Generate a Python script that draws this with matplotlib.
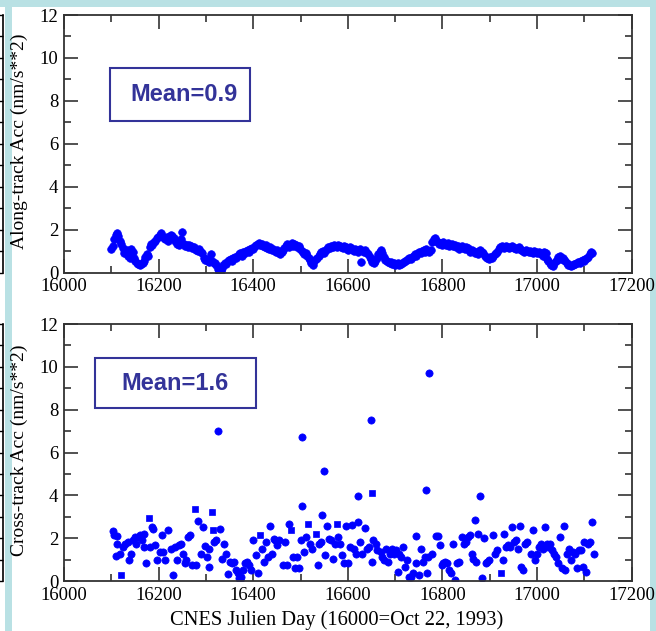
import numpy as np
import matplotlib
matplotlib.use('Agg')
import matplotlib.pyplot as plt
from matplotlib.patches import Rectangle
from matplotlib.ticker import MultipleLocator

# Along-track acceleration, sampled every 3 days from day 16100
along_start = 16100
along_step = 3
along_acc = [
    1.10, 1.25, 1.55, 1.75, 1.85, 1.70, 1.50, 1.35, 1.15, 0.90, 0.95, 1.05, 0.80, 0.70, 1.10, 0.95,
    0.70, 0.55, 0.45, 0.40, 0.38, 0.40, 0.45, 0.55, 0.75, 0.85, 0.80, 1.20, 1.35, 1.30, 1.45, 1.50,
    1.60, 1.65, 1.75, 1.85, 1.70, 1.60, 1.55, 1.65, 1.50, 1.70, 1.75, 1.70, 1.60, 1.50, 1.35, 1.45,
    1.30, 1.55, 1.90, 1.35, 1.25, 1.30, 1.20, 1.30, 1.25, 1.15, 1.20, 1.10, 1.05, 1.00, 1.10, 0.95,
    0.90, 0.70, 0.60, 0.65, 0.55, 0.50, 0.85, 0.55, 0.45, 0.45, 0.35, 0.15, 0.05, 0.10, 0.20, 0.35,
    0.45, 0.40, 0.55, 0.60, 0.65, 0.55, 0.70, 0.75, 0.70, 0.80, 0.85, 0.90, 0.80, 0.95, 0.90, 1.00,
    1.05, 0.95, 1.10, 1.15, 1.10, 1.25, 1.30, 1.35, 1.40, 1.30, 1.35, 1.25, 1.20, 1.30, 1.15, 1.10,
    1.20, 1.05, 1.10, 1.00, 0.95, 1.05, 0.90, 0.85, 0.95, 1.05, 1.15, 1.25, 1.35, 1.20, 1.30, 1.40,
    1.25, 1.35, 1.30, 1.20, 1.25, 1.10, 1.00, 0.95, 0.85, 0.90, 0.80, 0.70, 0.60, 0.45, 0.35, 0.55,
    0.65, 0.70, 0.80, 0.85, 0.95, 1.00, 0.90, 1.05, 1.10, 1.20, 1.15, 1.25, 1.20, 1.30, 1.25, 1.20,
    1.30, 1.25, 1.20, 1.15, 1.25, 1.20, 1.10, 1.05, 1.20, 1.15, 1.05, 1.00, 1.10, 1.05, 0.95, 1.10,
    0.50, 1.00, 0.95, 1.05, 0.90, 0.85, 0.75, 0.65, 0.50, 0.45, 0.55, 0.70, 0.85, 0.95, 1.05, 0.90,
    0.75, 0.60, 0.55, 0.50, 0.45, 0.50, 0.40, 0.45, 0.35, 0.40, 0.45, 0.35, 0.40, 0.45, 0.50, 0.55,
    0.60, 0.65, 0.70, 0.65, 0.75, 0.80, 0.85, 0.80, 0.90, 0.95, 0.90, 1.00, 1.05, 0.95, 1.10, 1.00,
    0.95, 1.05, 1.45, 1.55, 1.60, 1.50, 1.45, 1.35, 1.40, 1.30, 1.45, 1.35, 1.30, 1.40, 1.25, 1.30,
    1.35, 1.25, 1.30, 1.20, 1.25, 1.10, 1.20, 1.25, 1.15, 1.10, 1.20, 1.15, 1.05, 0.95, 1.05, 1.00,
    0.90, 0.95, 0.85, 1.00, 1.05, 0.95, 0.90, 0.80, 0.75, 0.70, 0.65, 0.75, 0.70, 0.80, 0.85, 0.90,
    0.95, 1.10, 1.20, 1.25, 1.20, 1.15, 1.25, 1.20, 1.15, 1.20, 1.25, 1.20, 1.15, 1.10, 1.15, 1.20,
    1.10, 1.05, 1.00, 0.95, 1.05, 1.00, 0.95, 1.00, 0.95, 0.90, 1.00, 0.95, 0.90, 0.95, 0.90, 0.85,
    0.80, 0.95, 0.90, 0.65, 0.55, 0.45, 0.35, 0.30, 0.45, 0.55, 0.60, 0.75, 0.80, 0.65, 0.70, 0.60,
    0.55, 0.45, 0.35, 0.35, 0.30, 0.35, 0.40, 0.40, 0.45, 0.50, 0.45, 0.55, 0.60, 0.55, 0.65, 0.70,
    0.75, 0.85, 0.95, 0.90,
]
along_days = along_start + along_step * np.arange(len(along_acc))

# Cross-track acceleration (circles)
cross_days = [
    16103, 16105, 16113, 16111, 16109, 16119, 16125, 16129, 16135, 16137, 16141, 16145, 16149, 16153,
    16157, 16161, 16165, 16169, 16168, 16173, 16181, 16185, 16189, 16193, 16197, 16203, 16208, 16210,
    16214, 16220, 16226, 16231, 16234, 16238, 16242, 16248, 16251, 16256, 16258, 16262, 16266, 16270,
    16278, 16284, 16289, 16294, 16298, 16302, 16306, 16306, 16316, 16322, 16325, 16330, 16334, 16339,
    16343, 16347, 16351, 16355, 16359, 16363, 16367, 16369, 16371, 16375, 16379, 16383, 16387, 16391,
    16395, 16399, 16405, 16411, 16419, 16423, 16427, 16431, 16435, 16439, 16443, 16447, 16451, 16455,
    16463, 16467, 16472, 16476, 16484, 16488, 16492, 16496, 16500, 16504, 16504, 16508, 16512, 16520,
    16524, 16536, 16540, 16544, 16546, 16550, 16552, 16556, 16560, 16564, 16568, 16572, 16580, 16584,
    16588, 16592, 16596, 16600, 16604, 16609, 16613, 16617, 16621, 16622, 16625, 16629, 16637, 16641,
    16645, 16649, 16651, 16654, 16659, 16661, 16669, 16673, 16677, 16681, 16685, 16689, 16693, 16697,
    16701, 16705, 16709, 16713, 16717, 16721, 16725, 16729, 16733, 16737, 16743, 16745, 16750, 16754,
    16758, 16762, 16766, 16767, 16770, 16772, 16778, 16786, 16790, 16794, 16798, 16802, 16806, 16810,
    16814, 16818, 16822, 16826, 16830, 16834, 16842, 16846, 16850, 16854, 16858, 16862, 16864, 16869,
    16870, 16874, 16879, 16883, 16887, 16891, 16895, 16899, 16907, 16911, 16915, 16927, 16931, 16935,
    16939, 16943, 16947, 16951, 16955, 16959, 16963, 16967, 16971, 16975, 16979, 16987, 16991, 16995,
    16999, 17003, 17008, 17012, 17016, 17020, 17024, 17028, 17032, 17036, 17040, 17044, 17048, 17052,
    17056, 17060, 17064, 17068, 17072, 17076, 17080, 17084, 17088, 17092, 17096, 17100, 17104, 17108,
    17112, 17116, 17120,
]
cross_acc = [
    2.33, 2.13, 2.09, 1.75, 1.17, 1.25, 1.59, 1.75, 1.82, 0.97, 1.28, 1.90, 2.06, 1.75,
    2.06, 2.13, 1.90, 2.21, 1.59, 0.82, 1.59, 2.52, 2.44, 1.67, 0.97, 1.36, 2.13, 1.36,
    0.97, 2.40, 1.51, 0.28, 1.59, 0.97, 1.67, 1.72, 1.28, 0.82, 0.97, 2.06, 2.13, 0.74,
    0.74, 2.80, 1.28, 2.52, 1.64, 1.13, 0.66, 1.51, 1.82, 1.93, 7.00, 2.44, 1.05, 1.72,
    1.28, 0.32, 0.90, 0.85, 0.90, 0.51, 0.36, 0.12, 0.05, 0.20, 0.51, 0.85, 0.90, 0.74,
    0.51, 1.93, 1.21, 0.36, 1.51, 0.90, 1.82, 1.13, 2.57, 1.28, 1.98, 1.90, 1.67, 1.90,
    0.74, 1.82, 0.74, 2.64, 1.13, 0.59, 1.13, 0.59, 1.90, 6.72, 3.48, 1.36, 2.06, 1.75,
    1.51, 0.74, 1.75, 1.82, 3.09, 5.12, 1.21, 2.55, 1.98, 1.90, 1.05, 1.75, 2.06, 1.75,
    1.21, 0.82, 2.55, 0.82, 1.59, 2.60, 1.51, 1.28, 2.75, 3.99, 1.82, 1.28, 2.47, 1.51,
    1.59, 7.54, 0.90, 1.90, 1.75, 1.44, 1.36, 1.13, 0.97, 1.51, 0.90, 1.28, 1.51, 1.28,
    1.44, 0.43, 1.28, 1.13, 1.59, 0.66, 0.97, 0.20, 0.20, 0.36, 2.09, 0.82, 0.28, 1.51,
    0.90, 1.13, 4.27, 0.39, 1.13, 9.72, 1.28, 2.09, 2.09, 1.67, 0.74, 0.82, 0.90, 0.82,
    0.51, 0.36, 1.72, 0.05, 0.82, 0.90, 2.06, 1.75, 1.82, 2.06, 2.13, 1.28, 1.05, 2.83,
    0.90, 2.21, 3.96, 0.15, 2.00, 0.82, 0.90, 0.97, 2.13, 1.28, 1.44, 0.97, 2.21, 1.59,
    1.67, 1.59, 2.52, 1.82, 1.90, 1.51, 2.57, 0.66, 0.51, 1.75, 1.82, 1.28, 2.36, 0.97,
    1.28, 1.59, 1.75, 1.51, 2.52, 1.75, 1.59, 1.75, 1.44, 1.28, 1.13, 0.82, 2.06, 0.59,
    2.55, 0.51, 1.28, 1.51, 0.97, 1.36, 1.28, 0.59, 1.44, 1.44, 0.66, 1.82, 0.43, 1.75,
    1.82, 2.75, 1.25,
]

# Cross-track acceleration (squares)
cross_sq_days = [16121, 16179, 16276, 16312, 16314, 16415, 16480, 16516, 16532, 16576, 16650, 16923]
cross_sq_acc = [0.28, 2.95, 3.38, 3.21, 2.36, 2.13, 2.40, 2.67, 2.21, 2.67, 4.13, 0.39]

mean_labels = ["Mean=0.9", "Mean=1.6"]
ylabels = ["Along-track Acc (nm/s**2)", "Cross-track Acc (nm/s**2)"]
xlabel = "CNES Julien Day (16000=Oct 22, 1993)"

BLUE = '#0000ff'
NAVY = '#333399'
PALE = '#b9e1e4'

plt.rcParams['font.family'] = ['Liberation Serif', 'DejaVu Serif']

fig = plt.figure(figsize=(6.56, 6.31), dpi=100)

# slide background strips
for xy, w, h in [((0, 1 - 7 / 631), 1, 7 / 631), ((5 / 656, 0), 7 / 656, 1),
                 ((650 / 656, 0), 6 / 656, 1)]:
    fig.add_artist(Rectangle(xy, w, h, transform=fig.transFigure,
                             facecolor=PALE, edgecolor='none', zorder=-5))

ax1 = fig.add_axes([0.0976, 0.5678, 0.8654, 0.4084])
ax2 = fig.add_axes([0.0976, 0.0792, 0.8654, 0.4073])

ax1.plot(along_days, along_acc, 'o', color=BLUE, ms=5.5, mec=BLUE, mew=0.5)
ax2.plot(cross_days, cross_acc, 'o', color=BLUE, ms=5.2, mec=BLUE, mew=0.5)
ax2.plot(cross_sq_days, cross_sq_acc, 's', color=BLUE, ms=4.6, mec=BLUE, mew=0.5)

boxes = [((0.081, 0.589), 0.247, 0.205, (0.211, 0.691)),
         ((0.055, 0.673), 0.283, 0.195, (0.195, 0.770))]

for ax, lab, mlab, (xy, w, h, txy) in zip([ax1, ax2], ylabels, mean_labels, boxes):
    ax.set_xlim(16000, 17200)
    ax.set_ylim(0, 12)
    ax.xaxis.set_major_locator(MultipleLocator(200))
    ax.xaxis.set_minor_locator(MultipleLocator(100))
    ax.yaxis.set_major_locator(MultipleLocator(2))
    ax.yaxis.set_minor_locator(MultipleLocator(1))
    ax.tick_params(which='both', direction='in', top=True, right=True,
                   width=1.1, color='#222222', labelsize=13.5, pad=4)
    ax.tick_params(which='major', length=10)
    ax.tick_params(which='minor', length=5)
    for s in ax.spines.values():
        s.set_linewidth(1.3)
        s.set_color('#333333')
    ax.set_ylabel(lab, fontsize=14)
    ax.yaxis.set_label_coords(-0.064, 0.51)
    ax.add_patch(Rectangle(xy, w, h, transform=ax.transAxes, facecolor='white',
                           edgecolor=NAVY, linewidth=1.5, zorder=5))
    ax.text(txy[0], txy[1], mlab, transform=ax.transAxes, ha='center', va='center',
            fontsize=17, fontweight='bold', color=NAVY, family='Liberation Sans', zorder=6)

ax2.set_xlabel(xlabel, fontsize=14.8)
ax2.xaxis.set_label_coords(0.481, -0.115)

# edge of a neighbouring chart on the slide
for pos in [[0, 0.5678, 3 / 656, 0.4084], [0, 0.0792, 3 / 656, 0.4073]]:
    g = fig.add_axes(pos)
    g.set_xlim(0, 1)
    g.set_ylim(0, 12)
    for k in ['left', 'top', 'bottom']:
        g.spines[k].set_visible(False)
    g.spines['right'].set_linewidth(1.2)
    g.yaxis.tick_right()
    g.yaxis.set_major_locator(MultipleLocator(1))
    g.tick_params(axis='y', direction='in', length=3, width=1, labelright=False)
    g.set_xticks([])
    g.patch.set_alpha(0)

fig.savefig('out.png', dpi=100)
